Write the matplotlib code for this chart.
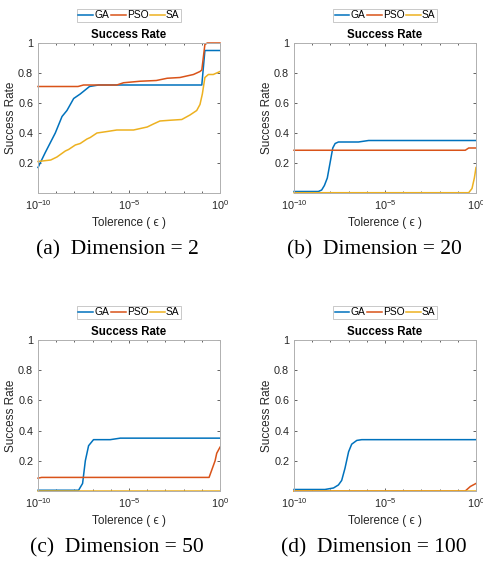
import numpy as np
import matplotlib
matplotlib.use("Agg")
import matplotlib.pyplot as plt
from matplotlib.ticker import FixedLocator, NullFormatter

plt.rcParams['font.family'] = ['Liberation Sans', 'DejaVu Sans']
plt.rcParams['mathtext.fontset'] = 'custom'
plt.rcParams['mathtext.rm'] = 'Liberation Sans'
plt.rcParams['mathtext.it'] = 'Liberation Sans:italic'

# MATLAB default line colours
C_GA, C_PSO, C_SA = '#0072BD', '#D95319', '#EDB120'

# success rate vs log10(tolerance), one set per dimension
# --- dimension 2
d2_ga_x = [-10, -9.6, -9.05, -8.68, -8.41, -8.04, -7.68, -7.17, -6.67, -1.0, -0.83, 0]
d2_ga_y = [0.17, 0.27, 0.40, 0.51, 0.55, 0.63, 0.66, 0.71, 0.72, 0.72, 0.95, 0.95]
d2_pso_x = [-10, -7.8, -7.5, -5.67, -5.3, -4.4, -3.5, -2.9, -2.2, -1.46, -1.1, -1.0, -0.83, -0.7, 0]
d2_pso_y = [0.71, 0.71, 0.72, 0.72, 0.735, 0.745, 0.75, 0.765, 0.77, 0.79, 0.81, 0.82, 0.99, 1.0, 1.0]
d2_sa_x = [-10, -9.3, -8.96, -8.5, -8.32, -7.95, -7.68, -7.31, -7.13, -6.76, -6.2, -5.67,
           -4.75, -4.0, -3.66, -3.3, -2.75, -2.1, -1.65, -1.28, -1.1, -0.97, -0.83, -0.64, -0.37, 0]
d2_sa_y = [0.21, 0.22, 0.24, 0.28, 0.29, 0.32, 0.33, 0.36, 0.37, 0.40, 0.41, 0.42,
           0.42, 0.44, 0.46, 0.48, 0.485, 0.49, 0.52, 0.55, 0.59, 0.66, 0.77, 0.79, 0.79, 0.81]
# --- dimension 20
d20_ga_x = [-10, -8.66, -8.48, -8.33, -8.17, -8.02, -7.87, -7.74, -7.56, -6.46, -5.9, 0]
d20_ga_y = [0.01, 0.01, 0.02, 0.05, 0.10, 0.20, 0.30, 0.33, 0.34, 0.34, 0.35, 0.35]
d20_pso_x = [-10, -0.59, -0.4, 0]
d20_pso_y = [0.285, 0.285, 0.30, 0.30]
d20_sa_x = [-10, -0.4, -0.22, -0.09, 0]
d20_sa_y = [0.002, 0.002, 0.03, 0.10, 0.17]
# --- dimension 50
d50_ga_x = [-10, -7.77, -7.55, -7.4, -7.22, -6.95, -6.03, -5.48, 0]
d50_ga_y = [0.005, 0.005, 0.05, 0.20, 0.30, 0.34, 0.34, 0.35, 0.35]
d50_pso_x = [-10, -9.8, -0.6, -0.27, -0.18, 0]
d50_pso_y = [0.085, 0.09, 0.09, 0.20, 0.25, 0.29]
d50_sa_x = [-10, 0]
d50_sa_y = [0.002, 0.002]
# --- dimension 100
d100_ga_x = [-10, -8.3, -7.83, -7.56, -7.38, -7.2, -7.0, -6.83, -6.55, -6.28, 0]
d100_ga_y = [0.01, 0.01, 0.02, 0.04, 0.07, 0.15, 0.26, 0.31, 0.335, 0.34, 0.34]
d100_pso_x = [-10, -0.59, -0.31, 0]
d100_pso_y = [0.0, 0.0, 0.03, 0.05]
d100_sa_x = [-10, 0]
d100_sa_y = [0.002, 0.002]

panels = [
    ('(a)  Dimension = 2', (d2_ga_x, d2_ga_y), (d2_pso_x, d2_pso_y), (d2_sa_x, d2_sa_y)),
    ('(b)  Dimension = 20', (d20_ga_x, d20_ga_y), (d20_pso_x, d20_pso_y), (d20_sa_x, d20_sa_y)),
    ('(c)  Dimension = 50', (d50_ga_x, d50_ga_y), (d50_pso_x, d50_pso_y), (d50_sa_x, d50_sa_y)),
    ('(d)  Dimension = 100', (d100_ga_x, d100_ga_y), (d100_pso_x, d100_pso_y), (d100_sa_x, d100_sa_y)),
]

W, H = 483, 562
fig = plt.figure(figsize=(W / 100, H / 100), dpi=100)

# axes boxes in pixels: left, top, right, bottom
boxes = [(38, 43, 220, 193), (294, 43, 476, 193), (38, 340, 220, 491), (294, 340, 476, 491)]
captions = [(117, 250), (374, 250), (117, 548), (374, 548)]

for (cap, ga, pso, sa), (l, t, r, b), (cx, cy) in zip(panels, boxes, captions):
    ax = fig.add_axes([l / W, 1 - b / H, (r - l) / W, (b - t) / H])
    for (xs, ys), c, name in ((ga, C_GA, 'GA'), (pso, C_PSO, 'PSO'), (sa, C_SA, 'SA')):
        ax.plot(10.0 ** np.array(xs), ys, color=c, lw=1.1, label=name, clip_on=False)
    ax.set_xscale('log')
    ax.set_xlim(1e-10, 1)
    ax.set_ylim(0, 1)
    ax.xaxis.set_major_locator(FixedLocator([1e-10, 1e-5, 1]))
    ax.xaxis.set_minor_locator(FixedLocator([10.0 ** k for k in range(-10, 1)]))
    ax.xaxis.set_minor_formatter(NullFormatter())
    ax.set_xticklabels(['$10^{-10}$', '$10^{-5}$', '$10^{0}$'])
    ax.set_yticks([0.2, 0.4, 0.6, 0.8, 1.0])
    ax.set_yticklabels(['0.2', '0.4', '0.6', '0.8', '1'])
    ax.tick_params(which='both', direction='in', top=True, right=True,
                   labelsize=7.8, colors='#262626', width=0.5)
    ax.tick_params(which='major', length=2.5)
    ax.tick_params(which='minor', length=1.5)
    for s in ax.spines.values():
        s.set_color('#b0b0b0')
        s.set_linewidth(0.7)
    ax.set_title('Success Rate', fontsize=8.3, fontweight='bold', pad=3.5)
    ax.set_ylabel('Success Rate', fontsize=8.5, color='#262626', labelpad=1)
    ax.set_xlabel('Tolerence ( ϵ )', fontsize=8.5, color='#262626', labelpad=3.5)
    leg = ax.legend(loc='lower center', bbox_to_anchor=(0.5, 1.14), ncol=3, fontsize=7.4,
                    frameon=True, fancybox=False, handlelength=1.45, handletextpad=0.12,
                    columnspacing=0.12, borderpad=0.15, borderaxespad=0)
    leg.get_frame().set_edgecolor('#b0b0b0')
    leg.get_frame().set_linewidth(0.6)
    fig.text(cx / W, 1 - cy / H, cap, ha='center', va='center', fontsize=15.5,
             family='Liberation Serif')

fig.savefig('out.png', dpi=100)
